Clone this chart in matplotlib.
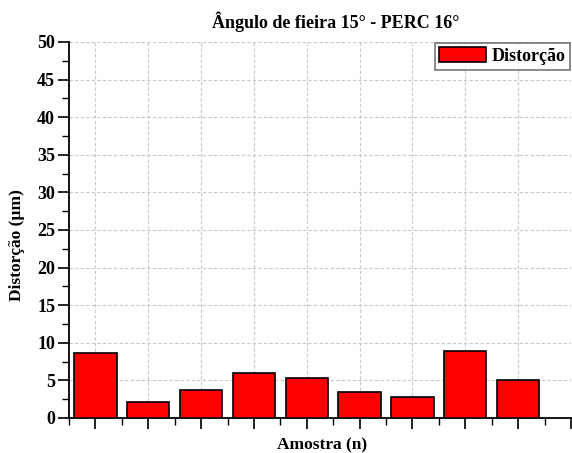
import matplotlib
matplotlib.use("Agg")
import matplotlib.pyplot as plt
from matplotlib.ticker import MultipleLocator

samples = [1, 2, 3, 4, 5, 6, 7, 8, 9]
distortion = [8.7, 2.1, 3.7, 6.0, 5.3, 3.4, 2.75, 8.9, 5.1]
title = "Ângulo de fieira 15° - PERC 16°"
xlabel = "Amostra (n)"
ylabel = "Distorção (µm)"
legend_label = "Distorção"

plt.rcParams['font.family'] = ['Liberation Serif', 'DejaVu Serif']
plt.rcParams['font.weight'] = 'bold'

W, H = 572, 453
fs = 13
fig = plt.figure(figsize=(W / 100, H / 100), dpi=100)
ax = fig.add_axes([69 / W, 35 / H, (571 - 69) / W, (418 - 42) / H])

ax.bar(samples, distortion, width=0.8, color='#ff0000', edgecolor='black',
       linewidth=1.2, label=legend_label, zorder=3)

ax.set_xlim(0.5, 10.0)
ax.set_ylim(0, 50)
ax.xaxis.set_major_locator(MultipleLocator(1))
ax.xaxis.set_minor_locator(MultipleLocator(0.5))
ax.yaxis.set_major_locator(MultipleLocator(5))
ax.yaxis.set_minor_locator(MultipleLocator(2.5))
ax.set_xticklabels([])
ax.tick_params(axis='both', which='major', direction='out', length=8, width=1.2,
               labelsize=fs, pad=2)
ax.tick_params(axis='both', which='minor', direction='out', length=5, width=1.0)
for lab in ax.get_yticklabels():
    lab.set_fontweight('bold')

ax.grid(True, which='major', linestyle=(0, (3, 2)), color='#c8c8c8', linewidth=0.8, zorder=0)
ax.spines['top'].set_visible(False)
ax.spines['right'].set_visible(False)
ax.spines['left'].set_linewidth(1.3)
ax.spines['bottom'].set_linewidth(1.3)

ax.set_title(title, fontsize=fs, fontweight='bold', pad=0, x=(336 - 69) / 502,
             y=(418 - 22) / 376, va='center')
ax.set_xlabel(xlabel, fontsize=12.5, fontweight='bold')
ax.xaxis.set_label_coords((322 - 69) / 502, (418 - 445) / 376)
ax.xaxis.label.set_va('center')
ax.set_ylabel(ylabel, fontsize=12.5, fontweight='bold')
ax.yaxis.set_label_coords((17 - 69) / 502, (418 - 245) / 376)
ax.yaxis.label.set_va('center')

leg = ax.legend(loc='upper right', fontsize=fs, frameon=True, fancybox=False,
                borderpad=0.25, handlelength=2.6, handleheight=0.9, handletextpad=0.3,
                borderaxespad=0.05)
leg.get_frame().set_edgecolor('#555555')
leg.get_frame().set_linewidth(1.2)
for t in leg.get_texts():
    t.set_fontweight('bold')

fig.savefig("out.png", dpi=100)
